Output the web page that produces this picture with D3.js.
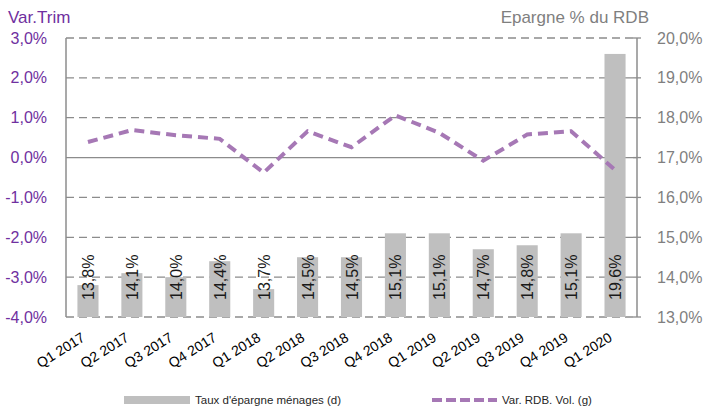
<!DOCTYPE html>
<html>
<head>
<meta charset="utf-8">
<script src="https://cdn.jsdelivr.net/npm/d3@7"></script>
<style>
  body { margin: 0; background: #fff; }
  text { font-family: "Liberation Sans", Arial, sans-serif; }
</style>
</head>
<body>
<svg id="chart"></svg>
<script>
var trimestres = ['Q1 2017','Q2 2017','Q3 2017','Q4 2017','Q1 2018','Q2 2018','Q3 2018','Q4 2018','Q1 2019','Q2 2019','Q3 2019','Q4 2019','Q1 2020'];
var tauxEpargne = [13.8, 14.1, 14.0, 14.4, 13.7, 14.5, 14.5, 15.1, 15.1, 14.7, 14.8, 15.1, 19.6];
var varRdb = [0.39, 0.69, 0.56, 0.47, -0.38, 0.66, 0.26, 1.06, 0.62, -0.08, 0.58, 0.66, -0.31];
var ticksGauche = [-4, -3, -2, -1, 0, 1, 2, 3];
var ticksDroite = [13, 14, 15, 16, 17, 18, 19, 20];

var largura = 705, altura = 412;
var margem = { esquerda: 66, direita: 68, superior: 38, inferior: 95 };
var larguraPlot = largura - margem.esquerda - margem.direita;
var alturaPlot = altura - margem.superior - margem.inferior;

var roxo = '#7030a0', cinza = '#7f7f7f', linha = '#a678b5';
var fmt = function(v) { return v.toFixed(1).replace('.', ',') + '%'; };

var svg = d3.select('#chart').attr('width', largura).attr('height', altura);
var plot = svg.append('g').attr('transform', 'translate(' + margem.esquerda + ',' + margem.superior + ')');

var x = d3.scaleBand().domain(trimestres).range([0, larguraPlot]).paddingInner(0.52).paddingOuter(0.26);
var yG = d3.scaleLinear().domain([-4, 3]).range([alturaPlot, 0]);
var yD = d3.scaleLinear().domain([13, 20]).range([alturaPlot, 0]);
var cx = function(d) { return x(d) + x.bandwidth() / 2; };

// grille
plot.selectAll('.grade')
  .data(ticksGauche)
  .enter().append('line')
    .attr('x1', 0).attr('x2', larguraPlot)
    .attr('y1', d => yG(d)).attr('y2', d => yG(d))
    .attr('stroke', '#8c8c8c')
    .attr('stroke-width', 1.3)
    .attr('stroke-dasharray', d => d === 0 ? null : '8,5');

// barres
plot.selectAll('.barra')
  .data(tauxEpargne)
  .enter().append('rect')
    .attr('x', (d, i) => x(trimestres[i]))
    .attr('y', d => yD(d))
    .attr('width', x.bandwidth())
    .attr('height', d => alturaPlot - yD(d))
    .attr('fill', '#bfbfbf');

plot.selectAll('.rotulo')
  .data(tauxEpargne)
  .enter().append('text')
    .attr('transform', (d, i) => 'translate(' + (cx(trimestres[i]) + 6) + ',' + (alturaPlot - 17) + ') rotate(-90)')
    .attr('font-size', 16)
    .attr('fill', '#1a1a1a')
    .text(d => fmt(d));

// axes
plot.append('line').attr('x1', 0).attr('x2', 0).attr('y1', 0).attr('y2', alturaPlot)
  .attr('stroke', '#8c8c8c').attr('stroke-width', 1.5);
plot.append('line').attr('x1', larguraPlot).attr('x2', larguraPlot).attr('y1', 0).attr('y2', alturaPlot)
  .attr('stroke', '#8c8c8c').attr('stroke-width', 1.5);
plot.selectAll('.tickD')
  .data(ticksDroite)
  .enter().append('line')
    .attr('x1', larguraPlot - 4).attr('x2', larguraPlot + 4)
    .attr('y1', d => yD(d)).attr('y2', d => yD(d))
    .attr('stroke', '#8c8c8c').attr('stroke-width', 1.3);

plot.selectAll('.rotG')
  .data(ticksGauche)
  .enter().append('text')
    .attr('x', -19).attr('y', d => yG(d)).attr('dy', '0.35em')
    .attr('text-anchor', 'end').attr('font-size', 16).attr('fill', roxo)
    .text(d => fmt(d));

plot.selectAll('.rotD')
  .data(ticksDroite)
  .enter().append('text')
    .attr('x', larguraPlot + 20).attr('y', d => yD(d)).attr('dy', '0.35em')
    .attr('font-size', 16).attr('fill', cinza)
    .text(d => fmt(d));

plot.selectAll('.rotX')
  .data(trimestres)
  .enter().append('text')
    .attr('transform', d => 'translate(' + (cx(d) - 2) + ',' + (alturaPlot + 23) + ') rotate(-32)')
    .attr('text-anchor', 'end').attr('font-size', 14).attr('fill', '#000')
    .text(d => d);

// courbe
var curva = d3.line()
  .x((d, i) => cx(trimestres[i]))
  .y(d => yG(d));
plot.append('path')
  .datum(varRdb)
  .attr('d', curva)
  .attr('fill', 'none')
  .attr('stroke', linha)
  .attr('stroke-width', 4)
  .attr('stroke-dasharray', '10,6');

// titres
svg.append('text').attr('x', 8).attr('y', 23).attr('font-size', 17).attr('fill', roxo).text('Var.Trim');
svg.append('text').attr('x', 649).attr('y', 23).attr('text-anchor', 'end').attr('font-size', 17).attr('fill', cinza).text('Epargne % du RDB');

// légende
var leg = svg.append('g').attr('font-size', 11.5).attr('fill', '#262626');
leg.append('rect').attr('x', 124).attr('y', 396).attr('width', 66).attr('height', 8).attr('fill', '#bfbfbf');
leg.append('text').attr('x', 195).attr('y', 400).attr('dy', '0.35em').text("Taux d'épargne ménages (d)");
leg.append('line').attr('x1', 432).attr('x2', 497).attr('y1', 400).attr('y2', 400)
  .attr('stroke', linha).attr('stroke-width', 4).attr('stroke-dasharray', '10,4');
leg.append('text').attr('x', 502).attr('y', 400).attr('dy', '0.35em').text('Var. RDB. Vol. (g)');
</script>
</body>
</html>
